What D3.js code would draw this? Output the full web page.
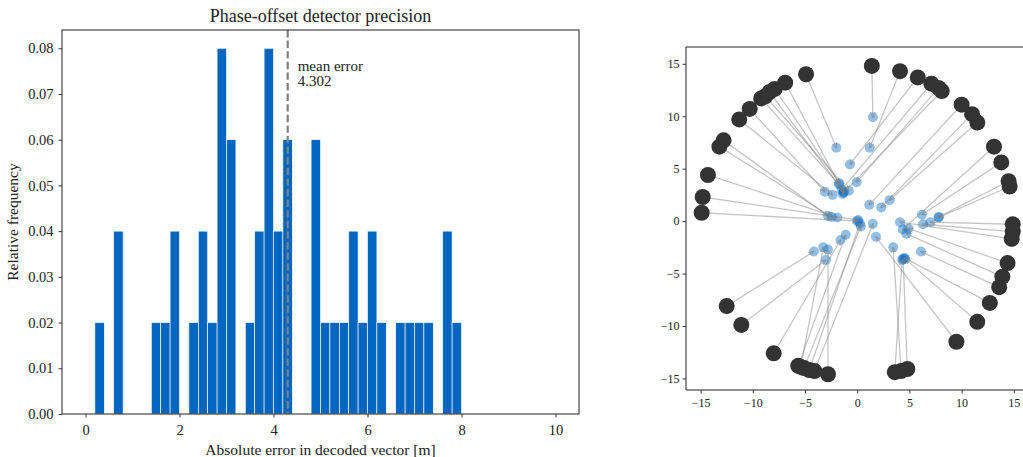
<!DOCTYPE html>
<html><head><meta charset="utf-8">
<script src="https://cdn.jsdelivr.net/npm/d3@7"></script>
<style>
body{margin:0;background:#fff;}
svg{display:block;font-family:"Liberation Serif","Times New Roman",serif;}
</style></head>
<body><svg id="c" width="1023" height="457"></svg>
<script>
// ---------- Histogram data ----------
const binLo   = [0.2,0.6,1.4,1.6,1.8,2.2,2.4,2.6,2.8,3.0,3.4,3.6,3.8,4.0,4.2,4.8,5.0,5.2,5.4,5.6,5.8,6.0,6.2,6.6,6.8,7.0,7.2,7.6,7.8];
const binHi   = [0.4,0.8,1.6,1.8,2.0,2.4,2.6,2.8,3.0,3.2,3.6,3.8,4.0,4.2,4.4,5.0,5.2,5.4,5.6,5.8,6.0,6.2,6.4,6.8,7.0,7.2,7.4,7.8,8.0];
const binFreq = [0.02,0.04,0.02,0.02,0.04,0.02,0.04,0.02,0.08,0.06,0.02,0.04,0.08,0.04,0.06,0.06,0.02,0.02,0.02,0.04,0.02,0.04,0.02,0.02,0.02,0.02,0.02,0.04,0.02];
const meanError = 4.302;
const histXTicks = [0,2,4,6,8,10];
const histYTicks = [0,0.01,0.02,0.03,0.04,0.05,0.06,0.07,0.08];

// ---------- Scatter data (true -> decoded) ----------
const trueX = [-4.9,-6.9,-7.9,-8.4,-8.8,-9.2,-10.3,-11.3,-12.8,-13.2,-14.3,-14.8,-14.9,
               1.4,4.1,5.8,7.1,7.8,8.1,10.0,11.0,11.5,13.1,13.8,14.5,14.6,14.9,
               14.9,14.8,14.4,13.9,13.6,12.7,11.5,9.5,4.8,4.2,3.6,
               -12.5,-11.1,-8.0,-5.65,-5.1,-4.1,-2.8,-5.4,-4.6];
const trueY = [14.0,13.2,12.6,12.3,11.9,11.7,10.7,9.7,7.7,7.1,4.4,2.3,0.8,
               14.8,14.3,13.7,13.1,12.7,12.4,11.1,10.2,9.4,7.1,5.6,3.8,3.3,-0.3,
               -1.0,-1.7,-4.0,-5.3,-6.3,-7.8,-9.6,-11.5,-14.1,-14.3,-14.4,
               -8.1,-9.9,-12.6,-13.8,-14.0,-14.3,-14.6,-13.9,-14.2];
const decX  = [-2.0,-1.3,-1.7,-1.3,-0.8,-1.75,-3.1,-2.35,-2.8,-2.45,-1.9,0.1,0.0,
               1.5,1.2,-0.7,-1.5,-0.06,-1.4,1.15,2.3,3.1,4.35,6.2,7.8,7.8,7.0,
               6.3,4.1,4.9,4.7,6.1,4.5,4.6,1.8,4.4,3.45,4.3,
               -4.15,-3.0,-1.6,-1.1,0.35,1.5,-2.8,-3.25,0.26];
const decY  = [7.0,2.7,3.6,2.8,2.9,3.5,2.8,2.5,0.5,0.4,0.35,0.1,0.0,
               9.9,7.0,5.4,3.0,3.7,2.6,1.55,1.3,2.0,-0.8,0.6,0.4,0.35,-0.1,
               -0.3,-0.1,-0.7,-1.2,-2.9,-3.5,-3.6,-1.5,-3.6,-2.5,-3.7,
               -2.9,-3.7,-1.8,-1.3,-0.5,-0.26,-2.7,-2.5,-0.2];
const scatTicks = [-15,-10,-5,0,5,10,15];

const svg = d3.select("#c");
const fmtMinus = d => (d<0 ? "\u2212" + Math.abs(d) : String(d));

// ================= Histogram =================
const H = {l:62, r:579, t:30, b:414};
const hx = d3.scaleLinear().domain([-0.5,10.5]).range([H.l,H.r]);
const hy = d3.scaleLinear().domain([0,0.084]).range([H.b,H.t]);
const gh = svg.append("g");

gh.selectAll("rect.bar").data(binFreq).join("rect")
  .attr("x",(d,i)=>hx(binLo[i]))
  .attr("width",(d,i)=>hx(binHi[i])-hx(binLo[i]))
  .attr("y",d=>hy(d))
  .attr("height",d=>hy(0)-hy(d))
  .attr("fill","#0066bf")
  .attr("stroke","#fff").attr("stroke-width",0.6);

gh.append("line")
  .attr("x1",hx(meanError)).attr("x2",hx(meanError))
  .attr("y1",H.t).attr("y2",H.b)
  .attr("stroke","#808080").attr("stroke-width",2.2)
  .attr("stroke-dasharray","7.4,3.2");

const mt = gh.append("text").attr("x",hx(meanError)+10).attr("y",71)
  .attr("font-size",15).attr("fill","#222");
mt.append("tspan").attr("x",hx(meanError)+10).text("mean error");
mt.append("tspan").attr("x",hx(meanError)+10).attr("dy",15).text(meanError.toFixed(3));

const hxAxis = d3.axisBottom(hx).tickValues(histXTicks).tickSize(3.5).tickPadding(4).tickFormat(d3.format("d"));
const gxa = gh.append("g").attr("transform",`translate(0,${H.b})`).call(hxAxis);
const hyAxis = d3.axisLeft(hy).tickValues(histYTicks).tickSize(3.5).tickPadding(5).tickFormat(d3.format(".2f"));
const gya = gh.append("g").attr("transform",`translate(${H.l},0)`).call(hyAxis);
[gxa,gya].forEach(g=>{
  g.select(".domain").remove();
  g.selectAll("text").attr("font-size",14.5).attr("font-family","Liberation Serif").attr("fill","#222");
  g.selectAll("line").attr("stroke","#222").attr("stroke-width",0.9);
});
gxa.selectAll("text").attr("dy","0.9em");
gh.append("rect").attr("x",H.l).attr("y",H.t).attr("width",H.r-H.l).attr("height",H.b-H.t)
  .attr("fill","none").attr("stroke","#222").attr("stroke-width",1);

gh.append("text").attr("x",(H.l+H.r)/2).attr("y",22).attr("text-anchor","middle")
  .attr("font-size",18).attr("fill","#222").text("Phase-offset detector precision");
gh.append("text").attr("x",(H.l+H.r)/2).attr("y",455).attr("text-anchor","middle")
  .attr("font-size",15.5).attr("fill","#222").text("Absolute error in decoded vector [m]");
gh.append("text").attr("transform",`translate(18,${(H.t+H.b)/2}) rotate(-90)`).attr("text-anchor","middle")
  .attr("font-size",15.5).attr("fill","#222").text("Relative frequency");

// ================= Scatter =================
const S = {l:686, t:47, b:390};
const sx = d3.scaleLinear().domain([-16.4,16.4]).range([S.l, S.l+32.8*10.44]);
const sy = d3.scaleLinear().domain([-16.1,16.6]).range([S.b,S.t]);
const gs = svg.append("g");

const defs = svg.append("defs");
defs.append("marker").attr("id","ah").attr("viewBox","0 0 10 10")
  .attr("refX",9).attr("refY",5).attr("markerWidth",6).attr("markerHeight",6)
  .attr("markerUnits","userSpaceOnUse").attr("orient","auto")
  .append("path").attr("d","M0,1 L10,5 L0,9").attr("fill","none")
  .attr("stroke","#808080").attr("stroke-opacity",0.6).attr("stroke-width",1.4);

gs.selectAll("circle.dec").data(decX).join("circle")
  .attr("cx",(d,i)=>sx(d)).attr("cy",(d,i)=>sy(decY[i])).attr("r",5)
  .attr("fill","#0066bf").attr("fill-opacity",0.42);

gs.selectAll("line.arr").data(trueX).join("line")
  .attr("x1",(d,i)=>sx(d)).attr("y1",(d,i)=>sy(trueY[i]))
  .attr("x2",(d,i)=>sx(decX[i])).attr("y2",(d,i)=>sy(decY[i]))
  .attr("stroke","#808080").attr("stroke-opacity",0.45).attr("stroke-width",1.3)
  .attr("marker-end","url(#ah)");

gs.selectAll("circle.tru").data(trueX).join("circle")
  .attr("cx",(d,i)=>sx(d)).attr("cy",(d,i)=>sy(trueY[i])).attr("r",8)
  .attr("fill","#333333");

const sxAxis = d3.axisBottom(sx).tickValues(scatTicks).tickSize(3.5).tickPadding(3).tickFormat(fmtMinus);
const sgx = gs.append("g").attr("transform",`translate(0,${S.b})`).call(sxAxis);
const syAxis = d3.axisLeft(sy).tickValues(scatTicks).tickSize(3.5).tickPadding(3).tickFormat(fmtMinus);
const sgy = gs.append("g").attr("transform",`translate(${S.l},0)`).call(syAxis);
[sgx,sgy].forEach(g=>{
  g.select(".domain").remove();
  g.selectAll("text").attr("font-size",12).attr("font-family","Liberation Serif").attr("fill","#222");
  g.selectAll("line").attr("stroke","#222").attr("stroke-width",0.9);
});
sgx.selectAll("text").attr("dy","0.85em");
gs.append("line").attr("x1",S.l).attr("x2",S.l).attr("y1",S.t).attr("y2",S.b).attr("stroke","#222").attr("stroke-width",1);
gs.append("line").attr("x1",S.l).attr("x2",1023).attr("y1",S.t).attr("y2",S.t).attr("stroke","#222").attr("stroke-width",1);
gs.append("line").attr("x1",S.l).attr("x2",1023).attr("y1",S.b).attr("y2",S.b).attr("stroke","#222").attr("stroke-width",1);
</script></body></html>
